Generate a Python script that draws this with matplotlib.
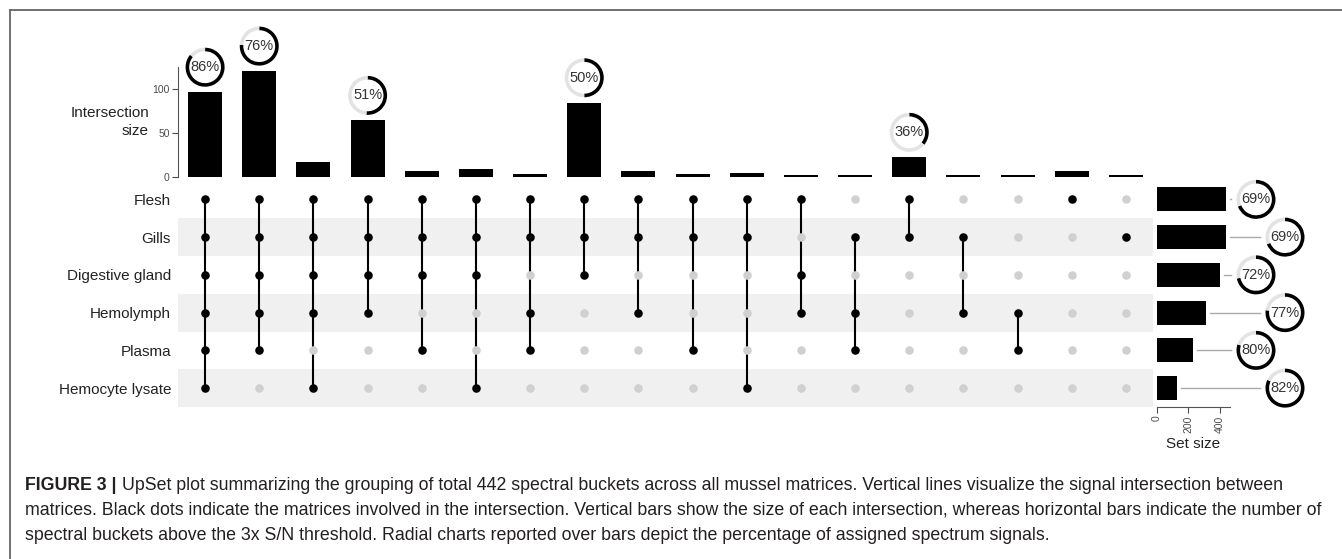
import matplotlib.pyplot as plt
from matplotlib.patches import Wedge

plt.rcParams['font.family'] = ['Liberation Sans', 'DejaVu Sans']

# matrices (rows of the matrix, top to bottom)
sets = ['Flesh', 'Gills', 'Digestive gland', 'Hemolymph', 'Plasma', 'Hemocyte lysate']
set_sizes = [440, 437, 400, 312, 230, 128]
set_pct = [69, 69, 72, 77, 80, 82]

# intersections, left to right: members are row indices into sets
members = [
    (0, 1, 2, 3, 4, 5), (0, 1, 2, 3, 4), (0, 1, 2, 3, 5), (0, 1, 2, 3),
    (0, 1, 2, 4), (0, 1, 2, 5), (0, 1, 3, 4), (0, 1, 2), (0, 1, 3),
    (0, 1, 4), (0, 1, 5), (0, 2, 3), (1, 3, 4), (0, 1), (1, 3), (3, 4),
    (0,), (1,),
]
inter_sizes = [96, 120, 17, 64, 7, 9, 3, 84, 6, 3, 4, 2, 2, 22, 2, 2, 7, 2]
inter_pct = [86, 76, None, 51, None, None, None, 50, None, None, None, None,
             None, 36, None, None, None, None]

caption = [
    "UpSet plot summarizing the grouping of total 442 spectral buckets across all mussel matrices. "
    "Vertical lines visualize the signal intersection between",
    "matrices. Black dots indicate the matrices involved in the intersection. Vertical bars show the size "
    "of each intersection, whereas horizontal bars indicate the number of",
    "spectral buckets above the 3x S/N threshold. Radial charts reported over bars depict the percentage "
    "of assigned spectrum signals.",
]

W, H = 1342, 559
fig = plt.figure(figsize=(W / 100, H / 100), dpi=100)


def box(x0, y0, x1, y1):
    # pixel box (origin top-left) -> figure fraction rect
    return [x0 / W, 1 - y1 / H, (x1 - x0) / W, (y1 - y0) / H]


n = len(inter_sizes)
ax_bar = fig.add_axes(box(178, 66.7, 1153, 176.7))
ax_mat = fig.add_axes(box(178, 180.5, 1153, 407))
ax_set = fig.add_axes(box(1156.7, 180.5, 1156.7 + 462 * 0.1586, 407))

# intersection size bars
ax_bar.bar(range(n), inter_sizes, width=0.63, color='black')
ax_bar.set_xlim(-0.5, n - 0.5)
ax_bar.set_ylim(0, 125)
ax_bar.set_yticks([0, 50, 100])
ax_bar.set_xticks([])
for s in ['top', 'right', 'bottom']:
    ax_bar.spines[s].set_visible(False)
ax_bar.spines['left'].set_color('#555555')
ax_bar.tick_params(axis='y', labelsize=7.5, colors='#4d4d4d', length=4, pad=2)
fig.text(149 / W, 1 - 122 / H, 'Intersection\nsize', ha='right', va='center',
         fontsize=11, color='#222222', multialignment='right', linespacing=1.3)

# matrix of dots
for j in range(1, len(sets), 2):
    ax_mat.axhspan(j - 0.5, j + 0.5, color='#f0f0f0', lw=0, zorder=0)
for i, m in enumerate(members):
    for j in range(len(sets)):
        c = 'black' if j in m else '#d0d0d0'
        ax_mat.scatter(i, j, s=38, color=c, lw=0, zorder=3)
    if len(m) > 1:
        ax_mat.plot([i, i], [min(m), max(m)], color='black', lw=1.5, zorder=2)
ax_mat.set_xlim(-0.5, n - 0.5)
ax_mat.set_ylim(len(sets) - 0.5, -0.5)
ax_mat.set_xticks([])
ax_mat.set_yticks(range(len(sets)))
ax_mat.set_yticklabels(sets, fontsize=11, color='#222222')
ax_mat.tick_params(axis='y', length=0, pad=5)
for s in ax_mat.spines.values():
    s.set_visible(False)

# set size bars
ax_set.barh(range(len(sets)), set_sizes, height=0.63, color='black')
ax_set.set_ylim(len(sets) - 0.5, -0.5)
ax_set.set_xlim(0, 462)
ax_set.set_yticks([])
ax_set.set_xticks([0, 200, 400])
ax_set.tick_params(axis='x', labelsize=7.5, colors='#4d4d4d', length=4, pad=2,
                   labelrotation=90)
for s in ['top', 'right', 'left']:
    ax_set.spines[s].set_visible(False)
ax_set.spines['bottom'].set_color('#555555')
ax_set.set_xlabel('Set size', fontsize=11, color='#222222', labelpad=3)

# overlay in pixel units for the radial charts, frame and caption
ov = fig.add_axes([0, 0, 1, 1], zorder=10)
ov.set_xlim(0, W)
ov.set_ylim(0, H)
ov.axis('off')


def donut(cx, cy, pct, r=19.5, w=3.6):
    a = 360 * pct / 100
    ov.add_patch(Wedge((cx, cy), r, 90 - a, 90, width=w, color='black', lw=0))
    ov.add_patch(Wedge((cx, cy), r, 90, 450 - a, width=w, color='#e3e3e3', lw=0))
    ov.text(cx, cy, f'{pct}%', ha='center', va='center', fontsize=10.5, color='#333333')


for i, p in enumerate(inter_pct):
    if p is not None:
        bx, by = ax_bar.transData.transform((i, inter_sizes[i]))
        donut(bx, by + 25, p)

for j, p in enumerate(set_pct):
    bx, by = ax_set.transData.transform((set_sizes[j], j))
    cx = 1256 if j % 2 == 0 else 1285
    ov.plot([bx + 4, cx - 19.5 - 6], [by, by], color='#aaaaaa', lw=1)
    donut(cx, by, p)

# figure frame
ov.plot([10, W], [H - 10, H - 10], color='#666666', lw=1.3)
ov.plot([10, 10], [H - 10, 0], color='#666666', lw=1.3)

# caption
r = fig.canvas.get_renderer()
ys = [485, 510, 535]
fs = 12.75
t = ov.text(25, H - ys[0], 'FIGURE 3 |', fontsize=fs, fontweight='bold',
            color='#231f20', va='center')
tw = t.get_window_extent(r).width
ov.text(25 + tw + 6, H - ys[0], caption[0], fontsize=fs, color='#231f20', va='center')
for k in (1, 2):
    ov.text(25, H - ys[k], caption[k], fontsize=fs, color='#231f20', va='center')

fig.savefig('out.png', dpi=100)
